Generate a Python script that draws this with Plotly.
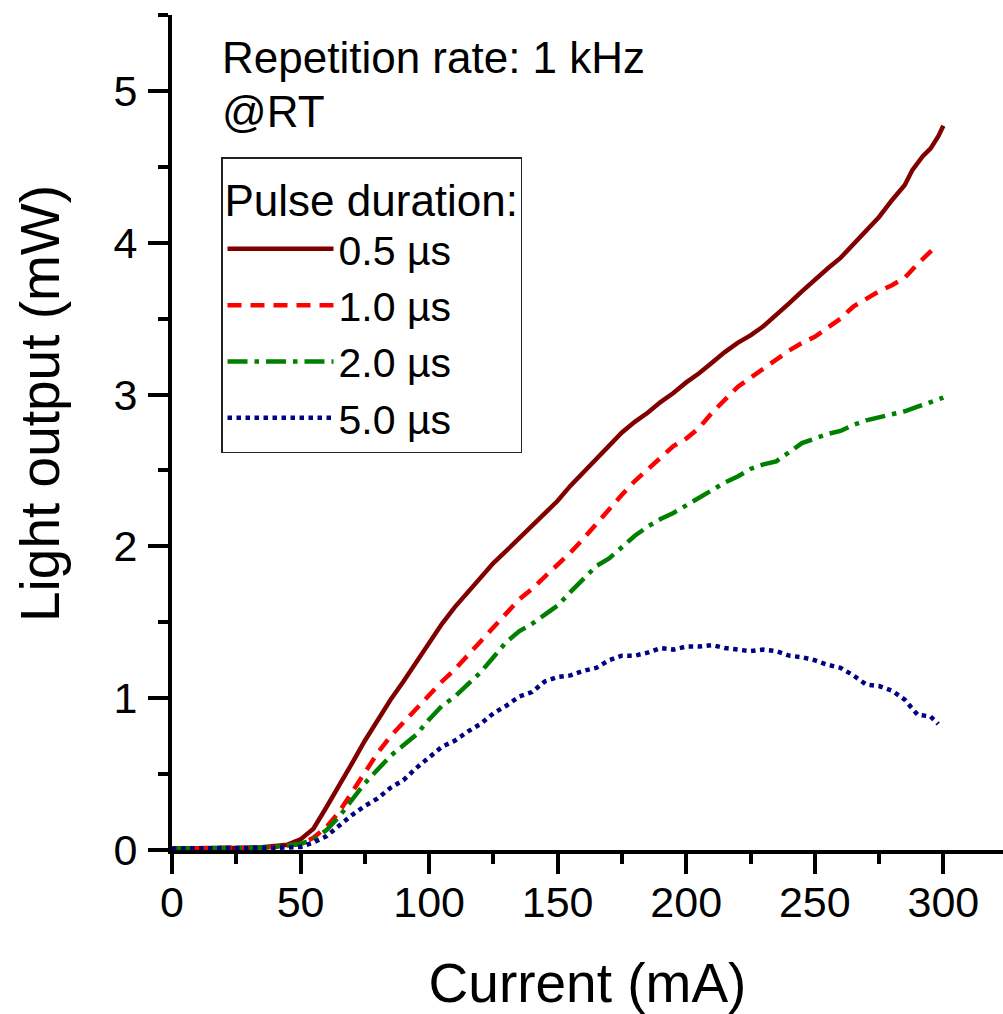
import plotly.graph_objects as go

# ---------------- data ----------------
current_05 = [0, 5, 10, 15, 20, 25, 30, 35, 40, 45, 50, 55, 60, 65, 70, 75, 80, 85, 90, 95,
              100, 105, 110, 115, 120, 125, 130, 135, 140, 145, 150, 155, 160, 165, 170, 175,
              180, 185, 190, 195, 200, 205, 210, 215, 220, 225, 230, 235, 240, 245, 250, 255,
              260, 265, 270, 275, 280, 285, 288, 290, 292, 295, 298, 300]
power_05 = [0.01, 0.01, 0.01, 0.01, 0.012, 0.015, 0.015, 0.018, 0.025, 0.035, 0.07, 0.14, 0.28,
            0.42, 0.57, 0.72, 0.86, 0.99, 1.11, 1.24, 1.37, 1.49, 1.60, 1.70, 1.80, 1.89, 1.97,
            2.05, 2.13, 2.21, 2.30, 2.40, 2.49, 2.58, 2.67, 2.75, 2.82, 2.88, 2.95, 3.01, 3.08,
            3.14, 3.21, 3.28, 3.34, 3.39, 3.45, 3.53, 3.60, 3.68, 3.76, 3.83, 3.90, 3.99, 4.08,
            4.17, 4.28, 4.38, 4.48, 4.53, 4.57, 4.62, 4.70, 4.77]

current_10 = [0, 5, 10, 15, 20, 25, 30, 35, 40, 45, 50, 55, 60, 65, 70, 75, 80, 85, 90, 95,
              100, 105, 110, 115, 120, 125, 130, 135, 140, 145, 150, 155, 160, 165, 170, 175,
              180, 185, 190, 195, 200, 205, 210, 215, 220, 225, 230, 235, 240, 245, 250, 255,
              260, 265, 270, 275, 280, 285, 290, 295.5]
power_10 = [0.01, 0.01, 0.01, 0.012, 0.012, 0.014, 0.015, 0.017, 0.02, 0.028, 0.04, 0.08, 0.15,
            0.25, 0.38, 0.51, 0.64, 0.75, 0.84, 0.93, 1.03, 1.11, 1.19, 1.28, 1.37, 1.47, 1.55,
            1.65, 1.72, 1.80, 1.88, 1.96, 2.05, 2.15, 2.24, 2.34, 2.43, 2.51, 2.59, 2.66, 2.71,
            2.78, 2.88, 2.97, 3.05, 3.11, 3.17, 3.23, 3.29, 3.34, 3.38, 3.44, 3.50, 3.58, 3.63,
            3.68, 3.72, 3.77, 3.86, 3.95]

current_20 = [0, 5, 10, 15, 20, 25, 30, 35, 40, 45, 50, 55, 60, 65, 70, 75, 80, 85, 90, 95,
              100, 105, 110, 115, 120, 125, 130, 135, 140, 145, 150, 155, 160, 165, 170, 175,
              180, 185, 190, 195, 200, 205, 210, 215, 220, 225, 230, 235, 240, 245, 250, 255,
              260, 265, 270, 275, 280, 285, 290, 295, 300]
power_20 = [0.01, 0.01, 0.01, 0.01, 0.012, 0.013, 0.015, 0.016, 0.02, 0.027, 0.04, 0.07, 0.13,
            0.22, 0.33, 0.44, 0.53, 0.62, 0.69, 0.76, 0.86, 0.95, 1.01, 1.09, 1.17, 1.27, 1.37,
            1.44, 1.49, 1.55, 1.61, 1.70, 1.78, 1.87, 1.92, 2.00, 2.07, 2.13, 2.18, 2.22, 2.27,
            2.32, 2.37, 2.42, 2.46, 2.51, 2.54, 2.56, 2.62, 2.68, 2.71, 2.74, 2.76, 2.80, 2.83,
            2.85, 2.87, 2.89, 2.92, 2.95, 2.98]

current_50 = [0, 5, 10, 15, 20, 25, 30, 35, 40, 45, 50, 55, 60, 65, 70, 75, 80, 85, 90, 95,
              100, 105, 110, 115, 120, 125, 130, 135, 140, 145, 150, 155, 160, 165, 170, 175,
              180, 185, 190, 195, 200, 205, 210, 215, 220, 225, 230, 235, 240, 245, 250, 255,
              260, 265, 270, 275, 280, 285, 290, 295, 298]
power_50 = [0.01, 0.01, 0.01, 0.01, 0.01, 0.01, 0.012, 0.012, 0.014, 0.016, 0.02, 0.05, 0.09,
            0.16, 0.23, 0.29, 0.34, 0.41, 0.46, 0.54, 0.61, 0.68, 0.72, 0.78, 0.83, 0.90, 0.95,
            1.01, 1.04, 1.11, 1.14, 1.15, 1.18, 1.20, 1.25, 1.28, 1.28, 1.30, 1.33, 1.32, 1.34,
            1.34, 1.35, 1.33, 1.32, 1.31, 1.32, 1.31, 1.28, 1.27, 1.25, 1.22, 1.20, 1.15, 1.09,
            1.08, 1.05, 0.99, 0.89, 0.88, 0.83]

series_names = ["0.5 µs", "1.0 µs", "2.0 µs", "5.0 µs"]
series_x = [current_05, current_10, current_20, current_50]
series_y = [power_05, power_10, power_20, power_50]

x_title = "Current (mA)"
y_title = "Light output (mW)"
legend_title = "Pulse duration:"
note_lines = ["Repetition rate: 1 kHz", "@RT"]

# ---------------- styling ----------------
colors = ["#800000", "#FF0000", "#008000", "#000080"]
dashes = ["solid", "14px,9px", "20px,7px,4.5px,7px", "4.5px,4.5px"]
FONT = "Liberation Sans, Arial, Helvetica, sans-serif"

fig = go.Figure()
for name, xs, ys, c, d in zip(series_names, series_x, series_y, colors, dashes):
    fig.add_trace(go.Scatter(x=xs, y=ys, mode="lines", name=name,
                             line=dict(color=c, width=4.5, dash=d)))

W, H = 1003, 1014
L, R, T, B = 172, 0, 15, 164
pw, ph = W - L - R, H - T - B

def px_x(p):
    return (p - L) / pw

def px_y(p):
    return (H - B - p) / ph

axis_common = dict(showline=True, linecolor="black", linewidth=4, ticks="outside",
                   tickcolor="black", tickwidth=3.5, ticklen=20, showgrid=False,
                   zeroline=False, automargin=False,
                   tickfont=dict(family=FONT, size=43, color="black"))

fig.update_xaxes(range=[0, 323.2], tick0=0, dtick=50, ticklabelstandoff=-9,
                 minor=dict(ticks="outside", ticklen=10, tickwidth=3.5, tickcolor="black",
                            dtick=25, showgrid=False),
                 title=dict(text=x_title, font=dict(family=FONT, size=55, color="black"),
                            standoff=40),
                 **axis_common)
fig.update_yaxes(range=[0, 5.5], tick0=0, dtick=1, ticklabelstandoff=2,
                 minor=dict(ticks="outside", ticklen=10, tickwidth=3.5, tickcolor="black",
                            dtick=0.5, showgrid=False),
                 **axis_common)

fig.add_annotation(text=y_title, textangle=-90, xref="paper", yref="paper",
                   x=px_x(40), y=px_y(404), xanchor="center", yanchor="middle",
                   showarrow=False, font=dict(family=FONT, size=55, color="black"))
fig.add_annotation(text=note_lines[0], xref="paper", yref="paper", x=px_x(220), y=px_y(57),
                   xanchor="left", yanchor="middle", showarrow=False,
                   font=dict(family=FONT, size=44, color="black"))
fig.add_annotation(text=note_lines[1], xref="paper", yref="paper", x=px_x(220), y=px_y(112),
                   xanchor="left", yanchor="middle", showarrow=False,
                   font=dict(family=FONT, size=44, color="black"))

fig.update_layout(
    width=W, height=H,
    margin=dict(l=L, r=R, t=T, b=B, pad=0),
    paper_bgcolor="white", plot_bgcolor="white",
    font=dict(family=FONT, color="black"),
    legend=dict(x=px_x(221), y=px_y(157), xanchor="left", yanchor="top",
                bgcolor="white", bordercolor="#222222", borderwidth=1.5,
                font=dict(family=FONT, size=41, color="black"),
                title=dict(text=legend_title, font=dict(family=FONT, size=44, color="black")),
                itemwidth=106, tracegroupgap=0),
    showlegend=True,
)

fig.write_html("out.html", config={"displayModeBar": False},
               post_script="document.body.style.margin='0px';")
